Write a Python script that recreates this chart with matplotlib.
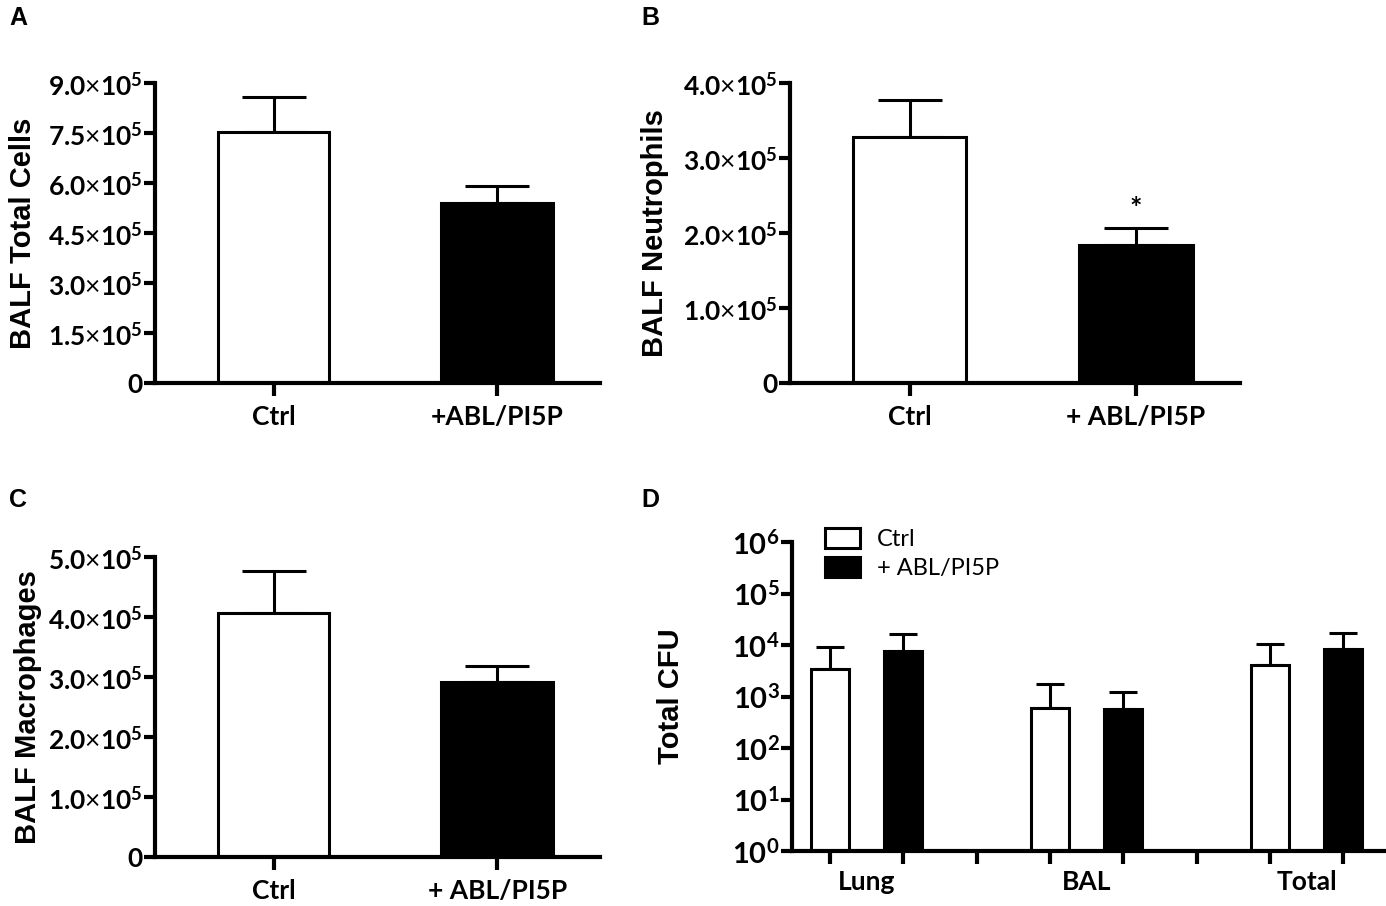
import numpy as np
import matplotlib
matplotlib.use("Agg")
import matplotlib.pyplot as plt
from matplotlib.patches import Patch
from matplotlib.ticker import NullLocator

plt.rcParams['font.family'] = ['Lato', 'DejaVu Sans']
plt.rcParams['mathtext.fontset'] = 'custom'
plt.rcParams['mathtext.rm'] = 'Lato:bold'
plt.rcParams['mathtext.it'] = 'Lato:italic'
plt.rcParams['mathtext.bf'] = 'Lato:bold'
plt.rcParams['mathtext.sf'] = 'Lato'

# panels A-C: mean and SEM (one sided)
groups_a = ['Ctrl', '+ABL/PI5P']
groups_bc = ['Ctrl', '+ ABL/PI5P']
total_cells = [7.53e5, 5.41e5]
total_cells_sem = [1.04e5, 0.51e5]
neutrophils = [3.28e5, 1.84e5]
neutrophils_sem = [0.49e5, 0.23e5]
macrophages = [4.07e5, 2.91e5]
macrophages_sem = [0.69e5, 0.27e5]

# panel D: CFU
cfu_sites = ['Lung', 'BAL', 'Total']
cfu_ctrl = [3400, 600, 4100]
cfu_ctrl_top = [9100, 1750, 10500]
cfu_abl = [7600, 575, 8300]
cfu_abl_top = [16000, 1230, 17000]

W, H = 1386, 906
fig = plt.figure(figsize=(W / 100, H / 100), dpi=100)

LW = 3.0
BLW = 2.2


def px_axes(x0, y0, x1, y1):
    return fig.add_axes([x0 / W, 1 - y1 / H, (x1 - x0) / W, (y1 - y0) / H])


def sci_label(v):
    if v == 0:
        return '0'
    return r'$%.1f\mathsf{\times}10^{5}$' % (v / 1e5)


def style_axes(ax):
    for s in ['top', 'right']:
        ax.spines[s].set_visible(False)
    for s in ['left', 'bottom']:
        ax.spines[s].set_linewidth(LW)
    ax.tick_params(axis='y', direction='out', length=8, width=LW, labelsize=19, pad=1)
    ax.tick_params(axis='x', direction='out', length=9, width=LW, pad=7)


def bar_panel(ax, means, sems, ymax, step, xlabels, ylabel, ylab_x):
    x = np.arange(len(means))
    ax.bar(x, means, width=0.5, color=['white', 'black'], edgecolor='black',
           linewidth=BLW, zorder=2)
    ax.errorbar(x, means, yerr=[np.zeros(len(sems)), sems], fmt='none', ecolor='black',
                elinewidth=BLW, capsize=23, capthick=BLW, zorder=1)
    ax.set_xlim(-0.53, 1.46)
    ax.set_ylim(0, ymax)
    ticks = np.arange(0, ymax + step / 2, step)
    ax.set_yticks(ticks)
    ax.set_yticklabels([sci_label(t) for t in ticks], fontweight='bold')
    ax.set_xticks(x)
    ax.set_xticklabels(xlabels, fontsize=19, fontweight='bold')
    ax.set_ylabel(ylabel, fontsize=21, fontweight='bold', family='Liberation Sans')
    ax.yaxis.set_label_coords(ylab_x, 0.5)
    style_axes(ax)


axA = px_axes(155, 83, 600, 383)
bar_panel(axA, total_cells, total_cells_sem, 9e5, 1.5e5, groups_a, 'BALF Total Cells', -0.265)

axB = px_axes(790, 83, 1240, 383)
bar_panel(axB, neutrophils, neutrophils_sem, 4e5, 1e5, groups_bc, 'BALF Neutrophils', -0.27)
axB.text(1, neutrophils[1] + neutrophils_sem[1] + 0.08e5, '*', ha='center', va='bottom',
         fontsize=21, fontweight='bold')

axC = px_axes(155, 557, 600, 857)
bar_panel(axC, macrophages, macrophages_sem, 5e5, 1e5, groups_bc, 'BALF Macrophages', -0.255)

# panel D
axD = px_axes(792, 542, W, 851)
axD.set_yscale('log')
centers = np.arange(len(cfu_sites))
off = 0.166
bw = 0.173
ctrl_err = np.array(cfu_ctrl_top) - np.array(cfu_ctrl)
abl_err = np.array(cfu_abl_top) - np.array(cfu_abl)
axD.bar(centers - off, cfu_ctrl, width=bw, bottom=1, color='white', edgecolor='black',
        linewidth=BLW, zorder=2)
axD.bar(centers + off, cfu_abl, width=bw, bottom=1, color='black', edgecolor='black',
        linewidth=BLW, zorder=2)
axD.errorbar(centers - off, cfu_ctrl, yerr=[np.zeros(3), ctrl_err], fmt='none', ecolor='black',
             elinewidth=BLW, capsize=10, capthick=BLW, zorder=1)
axD.errorbar(centers + off, cfu_abl, yerr=[np.zeros(3), abl_err], fmt='none', ecolor='black',
             elinewidth=BLW, capsize=10, capthick=BLW, zorder=1)
axD.set_ylim(1, 1e6)
axD.set_xlim(-0.34, 2.36)
decades = [10.0 ** k for k in range(7)]
axD.set_yticks(decades)
axD.set_yticklabels([r'$10^{%d}$' % k for k in range(7)])
axD.yaxis.set_minor_locator(NullLocator())
major_x = list(centers - off) + list(centers + off) + [0.5, 1.5]
axD.set_xticks(sorted(major_x))
axD.set_xticklabels([''] * len(major_x))
axD.set_xticks(centers, minor=True)
axD.set_xticklabels(cfu_sites, minor=True, fontsize=19, fontweight='bold')
style_axes(axD)
axD.tick_params(axis='y', labelsize=21)
axD.tick_params(axis='x', which='minor', length=0, pad=14)
axD.set_ylabel('Total CFU', fontsize=21, fontweight='bold', family='Liberation Sans')
axD.yaxis.set_label_coords(-0.18, 0.5)
handles = [Patch(facecolor='white', edgecolor='black', linewidth=BLW),
           Patch(facecolor='black', edgecolor='black', linewidth=BLW)]
axD.legend(handles, ['Ctrl', '+ ABL/PI5P'], loc='upper left', bbox_to_anchor=(0.055, 1.045),
           frameon=False, fontsize=17, handlelength=1.5, handleheight=0.9,
           borderpad=0, borderaxespad=0, labelspacing=0.3, handletextpad=0.7)

for lab, (px, py) in zip('ABCD', [(18, 18), (650, 18), (18, 500), (650, 500)]):
    fig.text(px / W, 1 - py / H, lab, ha='center', va='center', fontsize=18,
             fontweight='bold', family='Liberation Sans')

fig.savefig('out.png', dpi=100)
